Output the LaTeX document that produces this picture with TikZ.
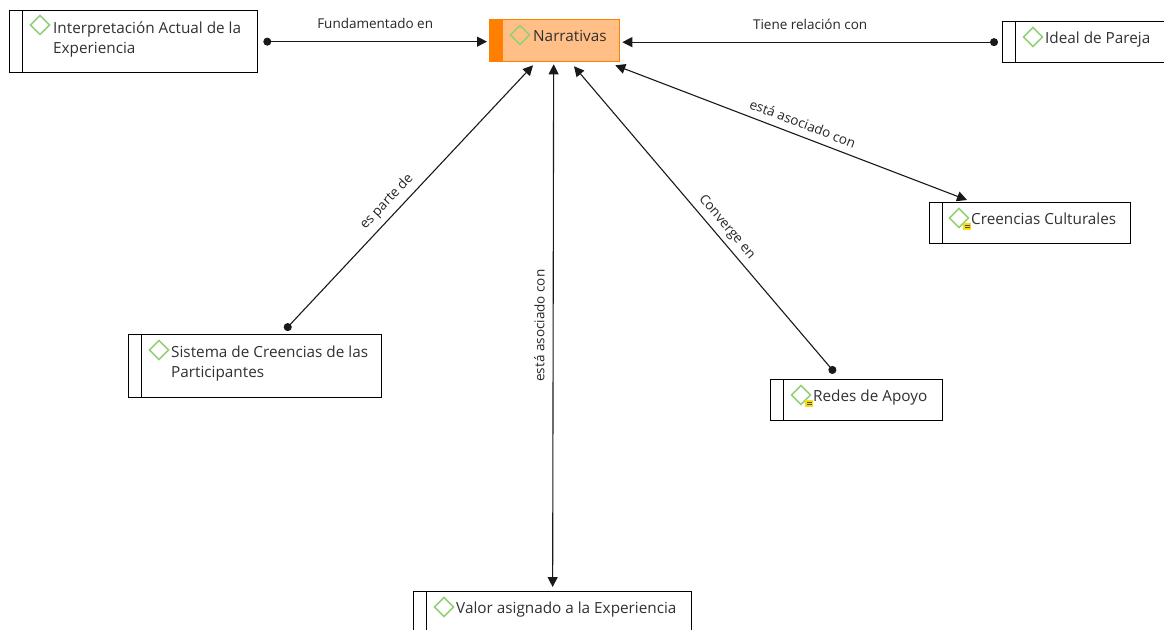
\documentclass[tikz,border=0pt]{standalone}
\usepackage{fontspec}
\setmainfont{Open Sans}
\usetikzlibrary{arrows.meta,calc}
\definecolor{icongreen}{RGB}{146,208,122}
\definecolor{narrfill}{RGB}{255,191,134}
\definecolor{narrline}{RGB}{255,128,0}
\definecolor{txtgray}{RGB}{48,48,48}
\definecolor{memoyellow}{RGB}{250,222,10}
\tikzset{
  concept/.style={draw,line width=1.3pt,rectangle,inner sep=0pt,anchor=north west,
    path picture={\draw[line width=1pt] ([xshift=13pt]path picture bounding box.north west)
      -- ([xshift=13pt]path picture bounding box.south west);}},
  mainconcept/.style={draw=narrline,fill=narrfill,line width=1.3pt,rectangle,inner sep=0pt,anchor=north west,
    path picture={\fill[narrline] (path picture bounding box.north west) rectangle
      ([xshift=13pt]path picture bounding box.south west);}},
  ctext/.style={font=\fontsize{15.3}{20}\selectfont,text=txtgray,align=left,inner sep=0pt,anchor=base west},
  link/.style={line width=1.1pt,draw=black!90},
  dot/.tip={Circle[length=8pt]},
  tip/.tip={Triangle[length=10pt,width=10pt]},
  elabel/.style={font=\fontsize{13.5}{16}\selectfont,text=black!85,sloped,inner sep=1pt},
  hlabel/.style={font=\fontsize{13.5}{16}\selectfont,text=black!85,inner sep=1pt},
  codeicon/.pic={\draw[icongreen,line width=1.7pt] (-9.5,0)--(0,-9.5)--(9.5,0)--(0,9.5)--cycle;},
  memoicon/.pic={\draw[icongreen,line width=1.7pt] (-9.5,0)--(0,-9.5)--(9.5,0)--(0,9.5)--cycle;
    \fill[memoyellow] (4,5) rectangle (12,12);
    \draw[black!70,line width=0.7pt] (5.5,7.5)--(10.5,7.5) (5.5,9.5)--(10.5,9.5);}
}
\begin{document}
\begin{tikzpicture}[x=1pt,y=-1pt]
  \useasboundingbox (0,0) rectangle (1164,629);
  % concepts
  \node[concept,minimum width=248pt,minimum height=62pt] (interp) at (9,10) {};
  \node[mainconcept,minimum width=130pt,minimum height=42pt] (narr) at (489,19) {};
  \node[concept,minimum width=170pt,minimum height=41pt] (ideal) at (1002,21) {};
  \node[concept,minimum width=201pt,minimum height=41pt] (creen) at (929,202) {};
  \node[concept,minimum width=253pt,minimum height=63pt] (sist) at (128,334) {};
  \node[concept,minimum width=172pt,minimum height=41pt] (redes) at (770,379) {};
  \node[concept,minimum width=278pt,minimum height=41pt] (valor) at (413,591) {};
  % icons
  \pic at ([shift={(31,15)}]interp.north west) {codeicon};
  \pic at ([shift={(31,16)}]narr.north west) {codeicon};
  \pic at ([shift={(31,16)}]ideal.north west) {codeicon};
  \pic at ([shift={(30,16)}]creen.north west) {memoicon};
  \pic at ([shift={(31,16)}]sist.north west) {codeicon};
  \pic at ([shift={(31,16)}]redes.north west) {memoicon};
  \pic at ([shift={(31,16)}]valor.north west) {codeicon};
  % texts
  \node[ctext] (interp-t) at ([shift={(44,43)}]interp.north west) {Interpretación Actual de la\\Experiencia};
  \node[ctext] (narr-t) at ([shift={(44,22)}]narr.north west) {Narrativas};
  \node[ctext] (ideal-t) at ([shift={(43,22)}]ideal.north west) {Ideal de Pareja};
  \node[ctext] (creen-t) at ([shift={(42,22)}]creen.north west) {Creencias Culturales};
  \node[ctext] (sist-t) at ([shift={(43,43)}]sist.north west) {Sistema de Creencias de las\\Participantes};
  \node[ctext] (redes-t) at ([shift={(43,22)}]redes.north west) {Redes de Apoyo};
  \node[ctext] (valor-t) at ([shift={(43,22)}]valor.north west) {Valor asignado a la Experiencia};
  % links
  \draw[link,dot-tip] ([xshift=5pt]interp.east) -- ([xshift=-2pt]interp.east -| narr.west)
    node[midway,hlabel,above=11pt] {Fundamentado en};
  \draw[link,dot-tip] ([xshift=-4pt]ideal.west) -- ([xshift=2pt]ideal.west -| narr.east)
    node[midway,hlabel,above=11pt] {Tiene relación con};
  \draw[link,dot-tip] ([shift={(157,-4)}]sist.north west) -- ([shift={(44,3)}]narr.south west)
    node[pos=0.45,elabel,above=5pt] {es parte de};
  \draw[link,tip-tip] ([yshift=4pt]valor.north) -- ([shift={(-1,2)}]narr.south)
    node[midway,elabel,above=7pt] {está asociado con};
  \draw[link,dot-tip] ([shift={(65,-6)}]redes.north west) -- ([shift={(85,4)}]narr.south west)
    node[pos=0.45,elabel,above=4pt] {Converge en};
  \draw[link,tip-tip] ([shift={(38,-2)}]creen.north west) -- ([shift={(-5,3)}]narr.south east)
    node[pos=0.48,elabel,above=6pt] {está asociado con};
\end{tikzpicture}
\end{document}
